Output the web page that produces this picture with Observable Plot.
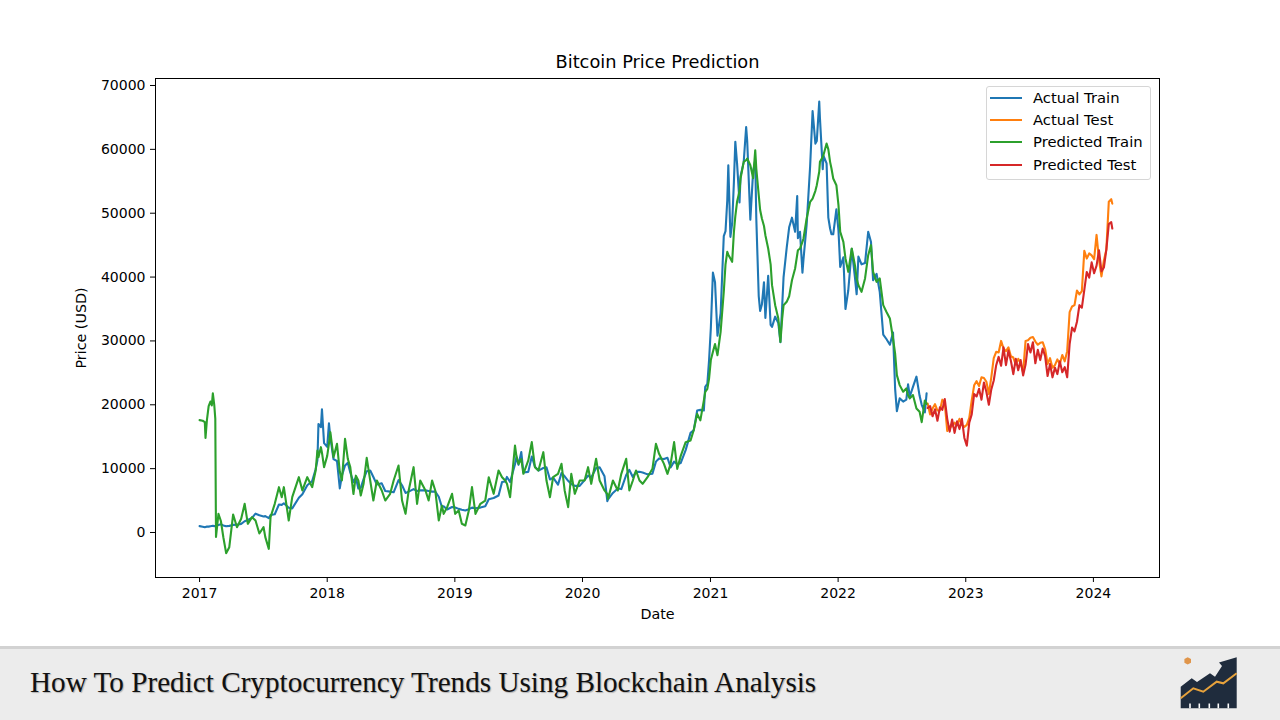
<!DOCTYPE html>
<html>
<head>
<meta charset="utf-8">
<script src="https://cdn.jsdelivr.net/npm/d3@7"></script>
<script src="https://cdn.jsdelivr.net/npm/@observablehq/plot@0.6"></script>
<style>
  body { margin: 0; background: #fff; }
  #page { position: relative; width: 1280px; height: 720px; overflow: hidden; background: #fff; font-family: "DejaVu Sans", sans-serif; }
  #chart { position: absolute; left: 0; top: 0; }
  #legend { position: absolute; left: 986px; top: 86px; width: 165px; height: 94px; box-sizing: border-box;
            border: 1px solid #d6d6d6; border-radius: 3px; background: rgba(255,255,255,0.85); }
  #legend .sw { position: absolute; left: 3px; width: 32px; height: 2px; }
  #legend .lb { position: absolute; left: 46px; font-size: 14.8px; line-height: 20px; height: 20px; color: #000; white-space: nowrap; }
  #footer { position: absolute; left: 0; top: 646px; width: 1280px; height: 74px; box-sizing: border-box;
            background: #ececec; border-top: 3px solid #d2d2d2; }
  #ftitle { position: absolute; left: 30px; top: 668px; font-family: "Liberation Serif", serif; font-size: 29.2px; line-height: 29px;
            color: #111; white-space: nowrap; text-shadow: 1px 1px 1px rgba(0,0,0,0.25); }
  #logo { position: absolute; left: 1160px; top: 645px; }
</style>
</head>
<body>
<div id="page">
  <div id="chart"></div>
  <div id="legend"></div>
  <div id="footer"></div>
  <div id="ftitle"></div>
  <svg id="logo" width="100" height="75" viewBox="0 0 100 75">
    <polygon points="20.7,63.3 20.7,41.7 31.7,33.3 37,37 50,28.3 55,31.7 62,21 59,17.5 76.7,12.3 76.7,63.3" fill="#1f2c3d"/>
    <polyline points="20.7,53.3 33.3,43.3 43.3,46.7 56.7,36.7 63.3,38.3 76.7,28.3" fill="none" stroke="#e6a23c" stroke-width="2"/>
    <g stroke="#ffffff" stroke-width="1.6">
      <line x1="30" y1="58.5" x2="30" y2="63.3"/><line x1="39.3" y1="58.5" x2="39.3" y2="63.3"/>
      <line x1="49.3" y1="58.5" x2="49.3" y2="63.3"/><line x1="58.3" y1="58.5" x2="58.3" y2="63.3"/>
      <line x1="68.3" y1="58.5" x2="68.3" y2="63.3"/>
    </g>
    <polygon points="27.7,12.2 31,14 31,17.8 27.7,19.6 24.4,17.8 24.4,14" fill="#e0954a"/>
  </svg>
</div>
<script>
// ---------- data ----------
const chartTitle = "Bitcoin Price Prediction";
const xLabel = "Date";
const yLabel = "Price (USD)";
const footerTitle = "How To Predict Cryptocurrency Trends Using Blockchain Analysis";
const seriesNames = ["Actual Train", "Actual Test", "Predicted Train", "Predicted Test"];
const yearTicks = [2017, 2018, 2019, 2020, 2021, 2022, 2023, 2024];
const priceTicks = [0, 10000, 20000, 30000, 40000, 50000, 60000, 70000];

const trainDates = [
"2017-01-01","2017-01-10","2017-01-16","2017-01-18","2017-01-22","2017-01-27","2017-02-01","2017-02-05",
"2017-02-08","2017-02-12","2017-02-15","2017-02-17","2017-02-24","2017-03-03","2017-03-10","2017-03-18",
"2017-03-27","2017-04-07","2017-04-18","2017-04-30","2017-05-10","2017-05-19","2017-05-31","2017-06-10",
"2017-06-21","2017-07-03","2017-07-08","2017-07-18","2017-07-23","2017-08-04","2017-08-16","2017-08-24",
"2017-08-30","2017-09-13","2017-09-23","2017-10-12","2017-10-22","2017-11-05","2017-11-19","2017-11-29",
"2017-12-04","2017-12-07","2017-12-14","2017-12-17","2017-12-23","2018-01-01","2018-01-06","2018-01-10",
"2018-01-19","2018-01-29","2018-02-06","2018-02-12","2018-02-21","2018-03-01","2018-03-08","2018-03-17",
"2018-03-24","2018-03-31","2018-04-07","2018-04-15","2018-04-24","2018-05-04","2018-05-13","2018-05-23",
"2018-06-06","2018-06-16","2018-06-30","2018-07-10","2018-07-24","2018-08-03","2018-08-13","2018-08-22",
"2018-09-05","2018-09-15","2018-09-24","2018-10-09","2018-10-18","2018-10-28","2018-11-06","2018-11-16",
"2018-11-25","2018-11-30","2018-12-10","2018-12-24","2019-01-02","2019-01-12","2019-01-21","2019-01-31",
"2019-02-10","2019-02-19","2019-03-01","2019-03-15","2019-03-29","2019-04-08","2019-04-22","2019-05-06",
"2019-05-16","2019-05-25","2019-05-30","2019-06-08","2019-06-22","2019-06-26","2019-07-02","2019-07-10",
"2019-07-16","2019-07-30","2019-08-09","2019-08-18","2019-08-28","2019-09-11","2019-09-20","2019-09-30",
"2019-10-09","2019-10-23","2019-11-02","2019-11-11","2019-11-21","2019-11-30","2019-12-10","2019-12-24",
"2020-01-07","2020-01-17","2020-01-26","2020-02-09","2020-02-19","2020-03-04","2020-03-12","2020-03-14",
"2020-03-28","2020-04-11","2020-04-21","2020-05-05","2020-05-14","2020-05-24","2020-06-02","2020-06-12",
"2020-06-21","2020-07-05","2020-07-19","2020-07-29","2020-08-07","2020-08-21","2020-08-31","2020-09-09",
"2020-09-19","2020-09-28","2020-10-08","2020-10-22","2020-11-05","2020-11-14","2020-11-24","2020-12-03",
"2020-12-13","2020-12-17","2020-12-23","2020-12-28","2021-01-02","2021-01-08","2021-01-14","2021-01-21",
"2021-01-30","2021-02-08","2021-02-13","2021-02-18","2021-02-21","2021-02-27","2021-03-04","2021-03-09",
"2021-03-13","2021-03-18","2021-03-25","2021-03-28","2021-04-06","2021-04-13","2021-04-16","2021-04-25",
"2021-05-03","2021-05-09","2021-05-12","2021-05-19","2021-05-23","2021-05-28","2021-06-03","2021-06-07",
"2021-06-15","2021-06-22","2021-06-26","2021-07-05","2021-07-14","2021-07-20","2021-07-25","2021-07-29",
"2021-08-07","2021-08-14","2021-08-22","2021-08-31","2021-09-06","2021-09-08","2021-09-14","2021-09-21",
"2021-09-24","2021-10-03","2021-10-13","2021-10-20","2021-10-28","2021-11-01","2021-11-08","2021-11-10",
"2021-11-18","2021-11-20","2021-11-29","2021-12-04","2021-12-09","2021-12-13","2021-12-18","2021-12-27",
"2022-01-02","2022-01-07","2022-01-16","2022-01-22","2022-01-30","2022-02-09","2022-02-18","2022-02-23",
"2022-02-28","2022-03-09","2022-03-19","2022-03-28","2022-04-05","2022-04-11","2022-04-21","2022-04-30",
"2022-05-10","2022-05-19","2022-05-29","2022-06-07","2022-06-13","2022-06-18","2022-06-26","2022-07-06",
"2022-07-15","2022-07-20","2022-07-25","2022-08-03","2022-08-13","2022-08-22","2022-08-28","2022-09-06",
"2022-09-11"
];

const actualTrain = [
1000, 910, 830, 870, 920, 920, 990, 1030,
1060, 1000, 1010, 1050, 1170, 1280, 1110, 970,
1040, 1190, 1210, 1350, 1760, 1960, 2300, 2950,
2690, 2510, 2560, 2250, 2750, 2860, 4380, 4330,
4580, 3880, 3780, 5440, 6000, 7400, 8040, 9900,
11300, 17000, 16500, 19300, 14000, 13400, 17100, 14900,
11500, 11200, 6900, 8900, 10500, 10900, 9400, 7900,
8600, 6900, 7000, 8350, 9600, 9700, 8700, 7500,
7700, 6500, 6400, 6300, 8200, 7400, 6200, 6400,
6800, 6500, 6600, 6600, 6500, 6400, 6400, 5600,
4000, 4100, 3600, 4000, 3900, 3700, 3550, 3450,
3650, 3900, 3800, 3900, 4100, 5200, 5400, 5800,
7900, 8000, 8700, 7900, 10700, 11800, 10600, 12600,
9400, 9500, 11900, 10300, 9700, 10100, 10200, 8300,
8600, 7500, 9300, 8800, 8100, 7600, 7300, 7300,
8200, 8900, 8600, 10100, 10200, 8800, 4900, 5200,
6200, 6900, 6800, 9000, 9800, 8700, 9500, 9500,
9400, 9100, 9200, 11100, 11600, 11500, 11700, 10200,
11100, 10700, 10900, 12900, 15600, 16000, 19100, 19200,
19100, 22800, 23300, 27000, 32000, 40700, 39200, 30800,
34300, 46400, 47200, 52000, 57500, 46300, 48400, 54900,
61200, 57800, 51700, 55800, 58000, 63500, 61300, 49000,
56600, 58300, 49200, 37000, 34700, 35700, 39200, 33600,
40200, 32500, 32200, 33800, 32800, 29800, 35400, 40000,
44600, 47800, 49300, 47100, 52700, 46100, 47100, 40700,
42800, 48200, 57400, 66000, 60900, 61300, 67500, 64900,
56900, 59000, 57800, 49300, 47600, 46700, 46700, 50600,
47300, 41600, 43100, 35000, 37900, 44400, 40000, 37300,
43200, 42000, 42200, 47100, 45500, 39500, 40500, 37700,
31000, 30300, 29400, 31300, 22500, 19000, 21000, 20500,
20800, 23200, 21300, 22800, 24400, 21400, 20000, 18800,
21800
];

const predTrain = [
17600, 17500, 17300, 14800, 17600, 19800, 20500, 19900,
21800, 20000, 17800, -700, 2930, 1800, -740, -3240,
-2300, 2820, 830, 2140, 4490, 1360, 2400, 1880,
-160, 830, -730, -2560, 2400, 4490, 7100, 5530,
7100, 1880, 5530, 8660, 6580, 8660, 7100, 9710,
12840, 11800, 13360, 12500, 10230, 12000, 13940, 15710,
11800, 13880, 9500, 8140, 14670, 11500, 10230, 6030,
8900, 8140, 5800, 7620, 11700, 8140, 5010, 8140,
6580, 5010, 6060, 8140, 10490, 5010, 2920, 6580,
10230, 4490, 8140, 6580, 5010, 8140, 6580, 1880,
4200, 2920, 3970, 6060, 2920, 3450, 1360, 1100,
3450, 7100, 2920, 4490, 5010, 8660, 6060, 9710,
8660, 8140, 7620, 5530, 13620, 12000, 10750, 11500,
9190, 11280, 14150, 10230, 9710, 12580, 8140, 5530,
8660, 9190, 10750, 6580, 3970, 9190, 6060, 8140,
8140, 10230, 7620, 11540, 8140, 6580, 6000, 5270,
8140, 6580, 9190, 11540, 6580, 8140, 9710, 8140,
7620, 8660, 9970, 13880, 12320, 10750, 9190, 10750,
14150, 9970, 12000, 14150, 14410, 16010, 18580, 17560,
20650, 22000, 22500, 24120, 27000, 28290, 29500, 27770,
31430, 37690, 42000, 43950, 43500, 42910, 42390, 47080,
49500, 51780, 53500, 55440, 58040, 58300, 58570, 57520,
55500, 59870, 57000, 52830, 50500, 49170, 48000, 46560,
44470, 42000, 38730, 35600, 33510, 29860, 33500, 35600,
36120, 37000, 39500, 41340, 43500, 44200, 44470, 45500,
46040, 49170, 51780, 52300, 53500, 54390, 56500, 58040,
58800, 59090, 60920, 60000, 58040, 57000, 55440, 54390,
51260, 47080, 45520, 42910, 40820, 44470, 41860, 39780,
38730, 37690, 39780, 43430, 45000, 40820, 39260, 39780,
35600, 34560, 33510, 30380, 28000, 24640, 23080, 22040,
22560, 21500, 21000, 21520, 19430, 18900, 17280, 20670,
20150
];

const testDates = [
"2022-09-14","2022-09-21","2022-09-28","2022-10-05","2022-10-12","2022-10-19","2022-10-26","2022-11-02",
"2022-11-09","2022-11-16","2022-11-23","2022-11-30","2022-12-07","2022-12-14","2022-12-21","2022-12-28",
"2023-01-04","2023-01-11","2023-01-18","2023-01-25","2023-02-01","2023-02-08","2023-02-15","2023-02-22",
"2023-03-01","2023-03-08","2023-03-15","2023-03-22","2023-03-29","2023-04-05","2023-04-12","2023-04-19",
"2023-04-26","2023-05-03","2023-05-10","2023-05-17","2023-05-24","2023-05-31","2023-06-07","2023-06-14",
"2023-06-21","2023-06-28","2023-07-05","2023-07-12","2023-07-19","2023-07-26","2023-08-02","2023-08-09",
"2023-08-16","2023-08-23","2023-08-30","2023-09-06","2023-09-13","2023-09-20","2023-09-27","2023-10-04",
"2023-10-11","2023-10-18","2023-10-25","2023-11-01","2023-11-08","2023-11-15","2023-11-22","2023-11-29",
"2023-12-06","2023-12-13","2023-12-20","2023-12-27","2024-01-03","2024-01-10","2024-01-17","2024-01-24",
"2024-01-31","2024-02-07","2024-02-14","2024-02-21","2024-02-24"
];

const actualTest = [
20200, 18500, 19400, 20100, 19100, 19100, 20800, 20200,
15900, 16600, 16600, 17200, 16800, 17800, 16800, 16550,
16850, 17950, 20700, 23050, 23700, 22950, 24300, 24200,
23600, 21700, 24300, 27300, 28300, 28200, 30000, 28800,
28400, 29000, 27600, 27400, 26300, 27200, 26500, 25100,
30000, 30100, 30500, 30600, 29900, 29400, 29700, 29800,
28700, 26400, 27300, 25800, 26200, 27100, 26400, 27800,
26800, 28400, 34500, 35400, 35600, 37900, 37300, 37800,
44100, 42900, 43700, 43400, 42800, 46600, 42700, 40100,
42600, 44300, 51800, 52200, 51500
];

const predTest = [
19500, 19800, 18200, 19300, 17500, 19600, 19200, 20900,
17800, 15800, 17700, 15600, 17400, 16200, 17800, 14800,
13600, 17200, 18500, 21700, 21300, 22500, 20800, 23500,
22000, 20000, 22400, 23800, 26200, 27500, 26100, 29000,
26200, 28500, 26900, 24800, 27200, 25400, 27000, 24600,
26300, 29500, 28200, 29800, 26500, 28600, 27000, 28800,
27600, 24500, 26400, 24300, 25800, 24800, 26800, 25100,
25900, 24300, 29500, 32100, 31500, 33000, 35600, 35200,
38000, 40800, 39900, 42300, 40600, 41800, 44200, 40900,
41500, 44300, 48300, 48600, 47600
];

// ---------- build ----------
const colors = ["#1f77b4", "#ff7f0e", "#2ca02c", "#d62728"];
const train = trainDates.map((d, i) => ({date: new Date(d), actual: actualTrain[i], pred: predTrain[i]}));
const test = testDates.map((d, i) => ({date: new Date(d), actual: actualTest[i], pred: predTest[i]}));
const yearDates = yearTicks.map(y => new Date(Date.UTC(y, 0, 1)));

const chart = Plot.plot({
  width: 1280,
  height: 646,
  marginLeft: 155,
  marginRight: 121,
  marginTop: 78,
  marginBottom: 69,
  style: {fontFamily: "DejaVu Sans", fontSize: "14px", color: "#000", background: "transparent", overflow: "visible"},
  x: {type: "utc", domain: [new Date("2016-08-28"), new Date("2024-07-08")]},
  y: {domain: [-7047, 71096]},
  marks: [
    Plot.line(train, {x: "date", y: "actual", stroke: colors[0], strokeWidth: 2.1}),
    Plot.line(test, {x: "date", y: "actual", stroke: colors[1], strokeWidth: 2.1}),
    Plot.line(train, {x: "date", y: "pred", stroke: colors[2], strokeWidth: 2.1}),
    Plot.line(test, {x: "date", y: "pred", stroke: colors[3], strokeWidth: 2.1}),
    Plot.frame({stroke: "#000", strokeWidth: 1}),
    Plot.axisX({ticks: yearDates, tickFormat: "%Y", tickSize: 5, tickPadding: 6, label: null, fontSize: 14}),
    Plot.axisY({ticks: priceTicks, tickFormat: d3.format("d"), tickSize: 5, tickPadding: 5, label: null, fontSize: 14}),
    Plot.text([chartTitle], {frameAnchor: "top", dy: -16, lineAnchor: "middle", text: d => d, fontSize: 17.8, fill: "#000"}),
    Plot.text([xLabel], {frameAnchor: "bottom", dy: 37, lineAnchor: "middle", text: d => d, fontSize: 14.3, fill: "#000"}),
    Plot.text([yLabel], {frameAnchor: "left", dx: -74, rotate: -90, textAnchor: "middle", lineAnchor: "middle", text: d => d, fontSize: 14.3, fill: "#000"})
  ]
});
document.getElementById("chart").appendChild(chart);

// legend
const legend = document.getElementById("legend");
const rowCenters = [11, 33, 55, 78];
seriesNames.forEach((name, i) => {
  const sw = document.createElement("div");
  sw.className = "sw";
  sw.style.top = (rowCenters[i] - 1) + "px";
  sw.style.background = colors[i];
  legend.appendChild(sw);
  const lb = document.createElement("div");
  lb.className = "lb";
  lb.style.top = (rowCenters[i] - 10) + "px";
  lb.textContent = name;
  legend.appendChild(lb);
});

document.getElementById("ftitle").textContent = footerTitle;
</script>
</body>
</html>
